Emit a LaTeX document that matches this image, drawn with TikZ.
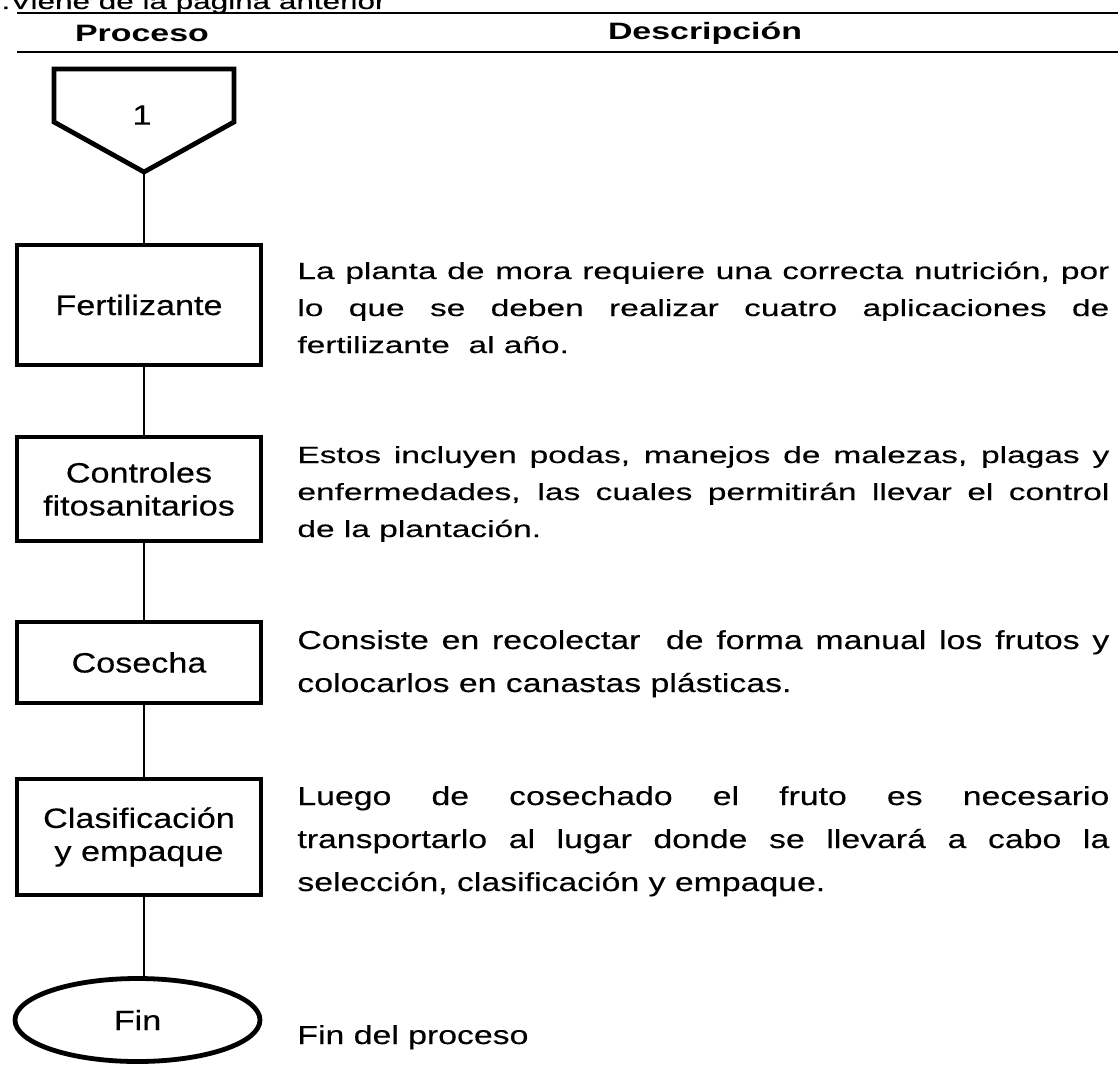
\documentclass[tikz,border=0pt]{standalone}
\usepackage{fontspec}
\setmainfont{Liberation Sans}
\newfontfamily\descfont{Liberation Sans}[FakeStretch=1.43,FakeBold=0.3]
\newfontfamily\descfontb{Liberation Sans}[FakeStretch=1.3,FakeBold=0.3]
\newfontfamily\boxfont{Liberation Sans}[FakeStretch=1.22,FakeBold=0.3]
\newfontfamily\headfont{Liberation Sans Bold}[FakeStretch=1.43]
\usetikzlibrary{shapes.geometric}
\tikzset{
  procbox/.style={draw, line width=2.4pt, rectangle, minimum width=122pt, inner sep=0pt,
    align=center, font=\boxfont\fontsize{14}{16.5}\selectfont},
  endbox/.style={draw, line width=2.4pt, ellipse, minimum width=122.5pt, minimum height=41.5pt,
    inner sep=0pt, font=\boxfont\fontsize{14}{16.5}\selectfont},
  desctext/.style={anchor=base west, inner sep=0pt, text width=406pt, align=justify,
    font=\descfont\fontsize{11.7}{18.5}\selectfont},
  desctextb/.style={desctext, font=\descfontb\fontsize{13}{21.5}\selectfont},
  headtext/.style={inner sep=0pt, font=\headfont\fontsize{11.85}{14}\selectfont},
  flowline/.style={line width=1.2pt}
}

\begin{document}
\begin{tikzpicture}[x=0.5pt,y=0.5pt,yscale=-1,xscale=1]
\clip (0,0) rectangle (1118,1065);

% Text Node
\node (viene) [anchor=base west, inner sep=0pt, font=\descfont\fontsize{11}{13}\selectfont] at (1,9) {.Viene de la página anterior};

%Straight Lines
\draw [line width=1.1pt] (17,13) -- (1118,13);
%Straight Lines
\draw [line width=1.1pt] (17,52) -- (1118,52);
% Text Node
\node (proceso) [headtext] at (142,33) {Proceso};
% Text Node
\node (descripcion) [headtext] at (705,33) {Descripción};

%Shape: Off-page connector
\draw [line width=2.4pt, line join=miter] (54,69) -- (234,69) -- (234,122) -- (144,172) -- (54,122) -- cycle;
\coordinate (tip) at (144,172);
\node (uno) [inner sep=0pt, font=\boxfont\fontsize{14}{16}\selectfont] at (142,115) {1};

%Shape: Rectangle
\node (fert) [procbox, minimum height=60pt] at (139,305) {Fertilizante};
%Shape: Rectangle
\node (ctrl) [procbox, minimum height=52pt] at (139,489) {Controles\\fitosanitarios};
%Shape: Rectangle
\node (cos) [procbox, minimum height=40.5pt] at (139,662.5) {Cosecha};
%Shape: Rectangle
\node (clas) [procbox, minimum height=58pt] at (139,837) {Clasificación\\y empaque};
%Shape: Ellipse
\node (fin) [endbox] at (137.5,1020) {Fin};

%Straight Lines
\draw [flowline] (tip) -- (tip |- fert.north);
\draw [flowline] (fert.south -| tip) -- (ctrl.north -| tip);
\draw [flowline] (ctrl.south -| tip) -- (cos.north -| tip);
\draw [flowline] (cos.south -| tip) -- (clas.north -| tip);
\draw [flowline] (clas.south -| tip) -- (fin.north -| tip);

% Text Node
\node (dfert) [desctext] at (297,279) {La planta de mora requiere una correcta nutrición, por\linebreak lo que se deben realizar cuatro aplicaciones de\linebreak fertilizante\ \ al año.};
% Text Node
\node (dctrl) [desctext] at (297,463) {Estos incluyen podas, manejos de malezas, plagas y\linebreak enfermedades, las cuales permitirán llevar el control\linebreak de la plantación.};
% Text Node
\node (dcos) [desctextb] at (297,649) {Consiste en recolectar\ \ de forma manual los frutos y\linebreak colocarlos en canastas plásticas.};
% Text Node
\node (dclas) [desctextb] at (297,805) {Luego de cosechado el fruto es necesario\linebreak transportarlo al lugar donde se llevará a cabo la\linebreak selección, clasificación y empaque.};
% Text Node
\node (dfin) [desctextb] at (297,1044) {Fin del proceso};

\end{tikzpicture}
\end{document}
